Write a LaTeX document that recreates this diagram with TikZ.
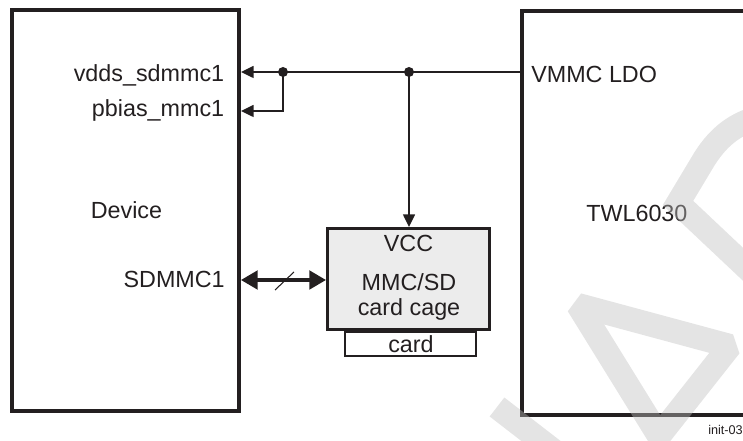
\documentclass[tikz,border=0pt]{standalone}
\usepackage{fontspec}
\setmainfont{Liberation Sans}
\usetikzlibrary{arrows.meta}
\definecolor{ink}{RGB}{35,31,32}
\definecolor{cagefill}{RGB}{236,236,236}
\definecolor{wm}{RGB}{191,191,191}
\begin{document}
\begin{tikzpicture}[x=0.75pt,y=-0.75pt,
  lbl/.style={font=\fontsize{17.5}{21}\selectfont, text=ink, inner sep=0pt},
  small/.style={font=\fontsize{9.5}{11}\selectfont, text=ink, inner sep=0pt},
  heavy/.style={draw=ink, line width=3pt},
  wire/.style={draw=ink, line width=1.1pt},
  wirearrow/.style={wire, -{Triangle[length=9.5pt,width=9pt]}},
  busarrow/.style={draw=ink, line width=2.3pt, {Triangle[length=12.5pt,width=14pt]}-{Triangle[length=12.5pt,width=14pt]}},
  junction/.style={circle, fill=ink, inner sep=0pt, minimum size=7.5pt},
  wmark/.style={draw=wm, line width=18pt, opacity=0.42}
]
\useasboundingbox (0,0) rectangle (743,441);
\clip (0,0) rectangle (743,441);

% Device box
\node[heavy, minimum width=170.25pt, minimum height=300.75pt, inner sep=0pt] (device) at (125.5,210.5) {};
% TWL6030 box (open to the right)
\coordinate (twlTop) at (760,11.5);
\coordinate (twlTL) at (522,11.5);
\coordinate (twlBL) at (522,415);
\coordinate (twlBot) at (760,415);
\draw[heavy] (twlTop) -- (twlTL) -- (twlBL) -- (twlBot);
\coordinate (twlL) at (522,72);

% card and card cage
\node[draw=ink, line width=1.5pt, fill=white, minimum width=98.25pt, minimum height=18pt, inner sep=0pt] (card) at (410.5,344) {};
\node[draw=ink, line width=2.5pt, fill=cagefill, minimum width=121.3pt, minimum height=75.5pt, inner sep=0pt] (cage) at (408.5,279) {};

% labels
\node[lbl, anchor=base east] (vdds) at (224.5,81.5) {vdds\_sdmmc1};
\node[lbl, anchor=base east] (pbias) at (224.5,117) {pbias\_mmc1};
\node[lbl, anchor=base west] (devlbl) at (90.5,219) {Device};
\node[lbl, anchor=base east] (sdlbl) at (225,287.5) {SDMMC1};
\node[lbl, anchor=base west] (vmmc) at (531,83) {VMMC LDO};
\node[lbl, anchor=base west] (twllbl) at (586,222) {TWL6030};
\node[lbl, anchor=base] (vcc) at (408.5,252) {VCC};
\node[lbl, anchor=base] (mmcsd) at (409,291) {MMC/SD};
\node[lbl, anchor=base] (cagelbl) at (409,316) {card cage};
\node[lbl, anchor=base] (cardlbl) at (411,353) {card};
\node[small, anchor=base west] (initlbl) at (708,435) {init-03};

% wires
\node[junction] (j1) at (283,72) {};
\node[junction] (j2) at (409,72) {};
\coordinate (pb) at (283,111);
\draw[wire] (twlL) -- (j2.center) -- (j1.center);
\draw[wirearrow] (j1.center) -- (device.east |- j1);
\draw[wirearrow] (j1.center) -- (pb) -- (device.east |- pb);
\draw[wirearrow] (j2.center) -- (j2 |- cage.north);

% bus
\coordinate (bus) at (300,280);
\draw[busarrow] (device.east |- bus) -- (cage.west |- bus);
\coordinate (s1) at (275,290);
\coordinate (s2) at (294,272);
\draw[ink, line width=0.8pt] (s1) -- (s2);

% watermark
\draw[wmark, line cap=butt] (497,407) -- (585,475);
\draw[wmark, line join=bevel] (578,305) -- (730,346) -- (659,436) -- cycle;
\draw[wmark, line join=miter] (765,116) .. controls (735,122) and (718,138) .. (705,158) -- (678,203) -- (765,285);
\end{tikzpicture}
\end{document}
